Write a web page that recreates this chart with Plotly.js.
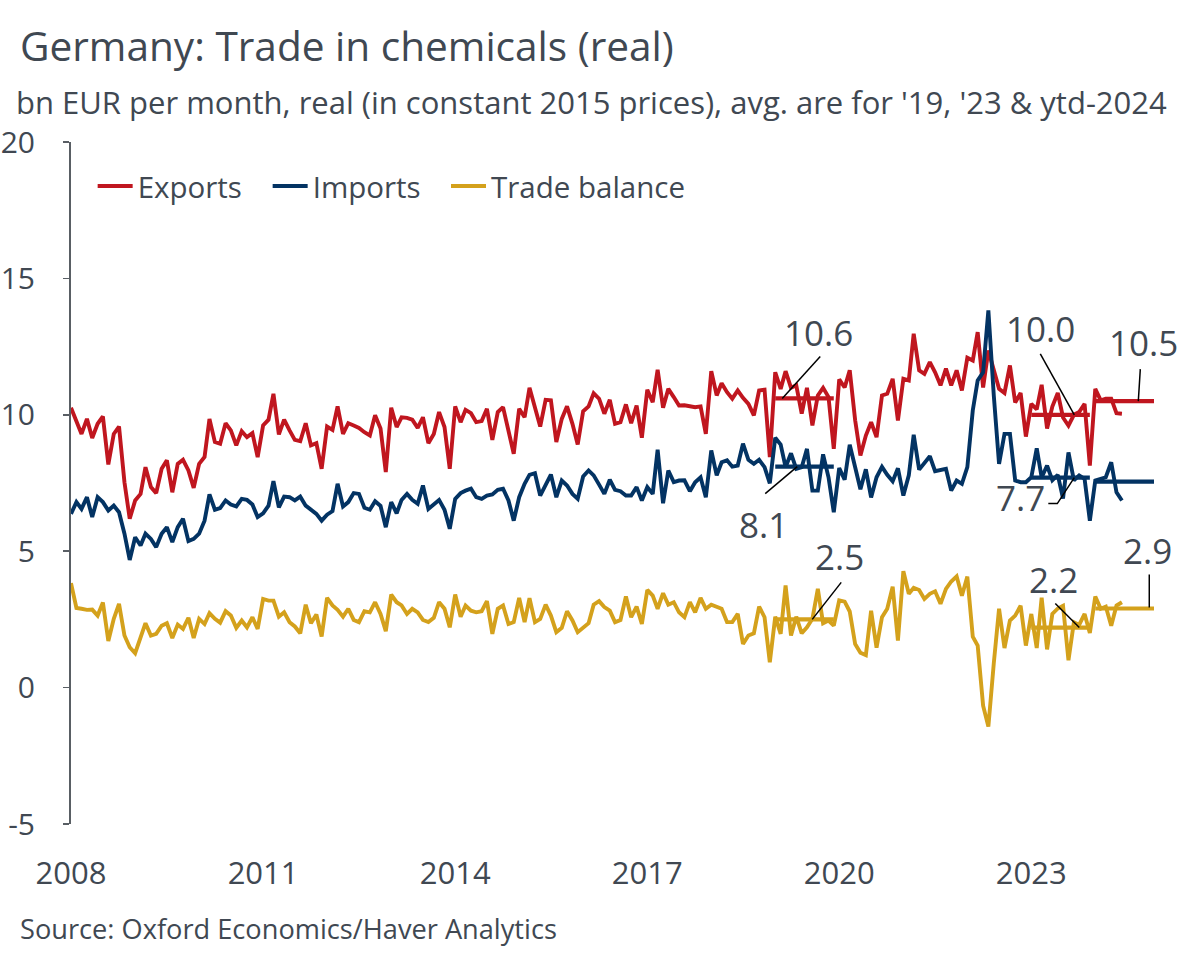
<!DOCTYPE html>
<html>
<head>
<meta charset="utf-8">
<script src="https://cdn.plot.ly/plotly-3.0.1.min.js"></script>
<style>
  html, body { margin: 0; padding: 0; background: #ffffff; }
  #chart { width: 1200px; height: 959px; }
</style>
</head>
<body>
<div id="chart"></div>
<script>
// Monthly series, bn EUR per month in constant 2015 prices, Jan 2008 - Jun 2024
const startYear = 2008;

const exportsVals = [
  10.26, 9.8, 9.3, 9.85, 9.15, 9.67, 9.94, 8.18, 9.3, 9.57, 7.53, 6.19,
  6.86, 7.1, 8.08, 7.35, 7.13, 8.02, 8.33, 7.16, 8.2, 8.35, 7.96, 7.32,
  8.2, 8.45, 9.85, 9.0, 8.94, 9.69, 9.43, 8.88, 9.4, 9.18, 9.33, 8.45,
  9.61, 9.82, 10.77, 9.28, 9.82, 9.43, 9.08, 9.03, 9.69, 8.88, 8.96, 8.02,
  9.57, 9.45, 10.31, 9.3, 9.69, 9.61, 9.52, 9.36, 9.24, 9.98, 9.5, 7.9,
  10.26, 9.55, 9.91, 9.89, 9.82, 9.52, 9.91, 8.96, 9.3, 10.1, 9.55, 8.02,
  10.31, 9.73, 10.18, 10.06, 9.73, 9.77, 10.22, 9.08, 10.1, 10.28, 9.43, 8.57,
  10.22, 9.91, 10.99, 10.2, 9.57, 10.55, 10.53, 9.0, 9.85, 10.31, 9.67, 8.91,
  10.13, 10.31, 10.79, 10.59, 10.04, 10.55, 9.67, 9.73, 10.38, 9.69, 10.34, 9.16,
  10.92, 10.46, 11.65, 10.26, 10.95, 10.65, 10.34, 10.35, 10.31, 10.28, 10.31, 9.3,
  11.6, 10.71, 11.16, 10.83, 10.59, 10.89, 10.62, 10.4, 9.98, 10.89, 10.92, 8.45,
  11.56, 10.95, 11.6, 10.99, 11.08, 10.04, 10.99, 9.61, 10.71, 10.99, 10.65, 8.75,
  11.3, 11.0, 11.63, 9.8, 8.51, 9.24, 9.73, 9.18, 10.71, 10.77, 11.32, 9.79,
  11.32, 11.26, 12.97, 11.63, 11.5, 11.93, 11.56, 11.08, 11.69, 11.08, 11.63, 10.89,
  12.09, 11.99, 13.03, 11.0, 12.36, 11.6, 10.95, 10.8, 11.81, 10.45, 10.8, 9.2,
  10.4, 10.2, 11.1, 9.5, 10.3, 10.8, 9.9, 9.6, 10.0, 10.1, 10.4, 8.14,
  10.95, 10.53, 10.59, 10.59, 10.06, 10.04
];

const importsVals = [
  6.37, 6.8, 6.55, 6.98, 6.25, 6.98, 6.8, 6.49, 6.67, 6.43, 5.64, 4.68,
  5.51, 5.21, 5.64, 5.45, 5.15, 5.64, 5.88, 5.33, 5.88, 6.19, 5.37, 5.45,
  5.64, 6.12, 7.08, 6.52, 6.58, 6.86, 6.71, 6.64, 6.92, 6.88, 6.71, 6.25,
  6.39, 6.67, 7.57, 6.61, 7.0, 6.98, 6.86, 7.0, 6.67, 6.52, 6.37, 6.12,
  6.34, 6.47, 7.47, 6.64, 6.8, 7.13, 7.1, 6.59, 6.52, 6.83, 6.66, 5.88,
  6.8, 6.39, 6.88, 7.1, 6.88, 6.74, 7.41, 6.55, 6.71, 6.88, 6.52, 5.82,
  6.92, 7.13, 7.22, 7.29, 6.98, 6.92, 7.04, 7.08, 7.25, 7.29, 6.86, 6.12,
  6.98, 7.47, 7.8, 7.86, 7.04, 7.44, 7.81, 6.98, 7.59, 7.41, 7.1, 6.92,
  7.74, 7.96, 7.78, 7.44, 7.1, 7.62, 7.25, 7.2, 7.04, 7.04, 7.35, 6.86,
  7.35, 7.1, 8.72, 6.76, 7.96, 7.53, 7.59, 7.6, 7.2, 7.53, 7.71, 6.98,
  8.69, 7.78, 8.26, 8.33, 8.1, 8.14, 8.94, 8.35, 8.2, 8.35, 8.08, 7.49,
  9.16, 8.91, 8.08, 8.59, 8.02, 8.08, 8.75, 7.22, 7.22, 8.55, 7.71, 6.43,
  8.05, 7.62, 8.9, 8.08, 7.27, 8.0, 6.97, 7.71, 8.09, 7.8, 7.56, 8.04,
  7.04, 7.78, 9.27, 7.99, 8.23, 8.48, 7.93, 7.96, 8.02, 7.22, 7.59, 7.47,
  8.08, 10.16, 11.26, 11.56, 13.83, 10.7, 8.2, 9.3, 9.3, 7.59, 7.53, 7.53,
  7.71, 8.77, 7.7, 8.14, 7.6, 7.8, 6.93, 8.62, 7.6, 7.78, 7.65, 6.12,
  7.59, 7.65, 7.71, 8.26, 7.16, 6.86
];

const balanceVals = [
  3.83, 2.92, 2.89, 2.85, 2.86, 2.64, 3.12, 1.71, 2.52, 3.07, 1.91, 1.48,
  1.26, 1.86, 2.36, 1.91, 1.97, 2.27, 2.36, 1.82, 2.31, 2.15, 2.56, 1.82,
  2.52, 2.33, 2.73, 2.52, 2.38, 2.8, 2.64, 2.19, 2.46, 2.21, 2.58, 2.15,
  3.25, 3.19, 3.19, 2.6, 2.76, 2.4, 2.24, 1.99, 3.04, 2.36, 2.68, 1.87,
  3.29, 3.01, 2.85, 2.6, 2.89, 2.48, 2.4, 2.8, 2.76, 3.13, 2.7, 2.07,
  3.41, 3.13, 3.01, 2.7, 2.89, 2.76, 2.48, 2.4, 2.56, 3.13, 2.89, 2.21,
  3.41, 2.6, 3.01, 2.82, 2.76, 2.8, 3.17, 1.97, 2.89, 3.01, 2.33, 2.4,
  3.29, 2.4, 3.28, 2.4, 2.52, 3.04, 2.64, 2.03, 2.19, 2.8, 2.46, 2.03,
  2.21, 2.36, 3.04, 3.17, 2.95, 2.82, 2.4, 2.48, 3.34, 2.58, 2.97, 2.33,
  3.58, 3.37, 2.89, 3.46, 3.04, 3.13, 2.76, 2.58, 3.13, 2.76, 3.29, 2.89,
  3.04, 2.97, 2.89, 2.4, 2.4, 2.7, 1.6, 1.91, 1.99, 2.97, 2.58, 0.93,
  2.6, 1.97, 3.74, 1.91, 2.6, 1.99, 2.21, 2.52, 3.62, 2.36, 2.46, 2.27,
  3.2, 3.15, 2.79, 1.6, 1.28, 1.19, 2.82, 1.46, 2.58, 2.89, 3.7, 1.72,
  4.27, 3.44, 3.66, 3.58, 3.25, 3.44, 3.53, 3.07, 3.62, 3.89, 4.08, 3.37,
  4.07, 1.87, 1.54, -0.66, -1.43, 0.9, 2.89, 1.45, 2.46, 2.64, 3.0, 1.54,
  2.7, 1.45, 3.3, 1.4, 2.7, 2.9, 3.0, 1.0, 2.4, 2.3, 2.7, 2.0,
  3.34, 2.89, 2.97, 2.27, 3.01, 3.13
];

// Annual averages: 2019, 2023 and year-to-date 2024
const avgYears = [2019, 2023, 2024];
const exportsAvg = [10.6, 10.0, 10.5];
const importsAvg = [8.1, 7.7, 7.55];
const balanceAvg = [2.5, 2.2, 2.9];

const xTickYears = [2008, 2011, 2014, 2017, 2020, 2023];
const yTickVals = [-5, 0, 5, 10, 15, 20];

const COLORS = { exp: '#C0161F', imp: '#033363', bal: '#D4A11C' };
const TEXT = '#404852';
const AXIS = '#595e64';
const FONT = '"Open Sans", "Noto Sans", sans-serif';

function monthDate(i) {
  const y = startYear + Math.floor(i / 12);
  const m = (i % 12) + 1;
  return y + '-' + String(m).padStart(2, '0') + '-01';
}
const months = exportsVals.map((_, i) => monthDate(i));

function avgSegments(values) {
  const xs = [], ys = [];
  avgYears.forEach((yr, k) => {
    xs.push(yr + '-01-01', yr + '-12-01', null);
    ys.push(values[k], values[k], null);
  });
  return { x: xs, y: ys };
}

const lineW = 3.9;
const traces = [
  { x: months, y: exportsVals, name: 'Exports', type: 'scatter', mode: 'lines',
    legend: 'legend', line: { color: COLORS.exp, width: lineW } },
  { x: months, y: importsVals, name: 'Imports', type: 'scatter', mode: 'lines',
    legend: 'legend', line: { color: COLORS.imp, width: lineW } },
  { x: months, y: balanceVals, name: 'Trade balance', type: 'scatter', mode: 'lines',
    legend: 'legend2', line: { color: COLORS.bal, width: lineW } }
];
[[exportsAvg, COLORS.exp], [importsAvg, COLORS.imp], [balanceAvg, COLORS.bal]].forEach(([vals, col]) => {
  const s = avgSegments(vals);
  traces.push({ x: s.x, y: s.y, type: 'scatter', mode: 'lines', showlegend: false,
    hoverinfo: 'skip', line: { color: col, width: 4.2 } });
});

// Value callouts: anchored on the average lines, offsets in pixels (y up)
const callouts = [
  { yr: 2019, v: exportsAvg[0], tx: 43, ty: 66, path: 'M7,0 L45,42' },
  { yr: 2019, v: importsAvg[0], tx: -12, ty: -58, path: 'M22,0 L-10,-27' },
  { yr: 2019, v: balanceAvg[0], tx: 64, ty: 63, path: 'M37,0 L66,37' },
  { yr: 2023, v: exportsAvg[1], tx: 9, ty: 86, path: 'M43,0 L9,61' },
  { yr: 2023, v: importsAvg[1], tx: -11, ty: -20, path: 'M43,0 L26,-26 L17,-26' },
  { yr: 2023, v: balanceAvg[1], tx: 22, ty: 48, path: 'M48,0 L24,24' },
  { yr: 2024, v: exportsAvg[2], tx: 48, ty: 59, path: 'M43,0 L45,32' },
  { yr: 2024, v: balanceAvg[2], tx: 52, ty: 58, path: 'M54,1 L54,34' }
];

const annotations = callouts.map(c => ({
  x: c.yr + '-01-01', y: c.v, xref: 'x', yref: 'y',
  text: c.v.toFixed(1), showarrow: false,
  xshift: c.tx, yshift: c.ty, xanchor: 'center', yanchor: 'middle',
  font: { family: FONT, size: 35, color: TEXT }
}));

annotations.push({
  xref: 'paper', yref: 'paper', x: -0.0526, y: 1.0585, xanchor: 'left', yanchor: 'middle',
  text: "bn EUR per month, real (in constant 2015 prices), avg. are for '19, '23 &amp; ytd-2024",
  showarrow: false, font: { family: FONT, size: 31, color: TEXT }
});
annotations.push({
  xref: 'paper', yref: 'paper', x: -0.0489, y: -0.1525, xanchor: 'left', yanchor: 'middle',
  text: 'Source: Oxford Economics/Haver Analytics',
  showarrow: false, font: { family: FONT, size: 27.2, color: TEXT }
});

const shapes = callouts.map(c => ({
  type: 'path', xref: 'x', yref: 'y',
  xsizemode: 'pixel', ysizemode: 'pixel',
  xanchor: c.yr + '-01-01', yanchor: c.v,
  path: c.path, line: { color: '#000000', width: 1.5 }
}));

const tickVals = xTickYears.map(y => y + '-01-01');
const xRange = ['2008-01-01', '2024-12-01'];

const legendBase = {
  orientation: 'h', y: 0.935, xanchor: 'left', yanchor: 'middle',
  font: { family: FONT, size: 29.5, color: TEXT },
  bgcolor: 'rgba(0,0,0,0)', itemwidth: 35,
  itemclick: false, itemdoubleclick: false
};

const layout = {
  width: 1200, height: 959,
  paper_bgcolor: '#ffffff', plot_bgcolor: '#ffffff',
  margin: { l: 71, r: 46, t: 142, b: 135 },
  font: { family: FONT, color: TEXT },
  title: {
    text: 'Germany: Trade in chemicals (real)',
    font: { family: FONT, size: 40.6, color: TEXT },
    x: 20 / 1200, xref: 'container', xanchor: 'left',
    y: 1 - 47 / 959, yref: 'container', yanchor: 'middle'
  },
  showlegend: true,
  legend: Object.assign({}, legendBase, { x: 0.02, entrywidth: 125, entrywidthmode: 'pixels' }),
  legend2: Object.assign({}, legendBase, { x: (446 - 71) / 1083 }),
  xaxis: {
    type: 'date', range: xRange, tickvals: tickVals, tickformat: '%Y',
    showline: false, showgrid: false, zeroline: false,
    ticks: 'outside', ticklen: 22, tickcolor: 'rgba(0,0,0,0)',
    tickfont: { family: FONT, size: 31, color: TEXT }
  },
  xaxis2: {
    type: 'date', range: xRange, tickvals: tickVals, overlaying: 'x',
    anchor: 'free', position: 0.2,
    showline: true, linecolor: AXIS, linewidth: 2,
    ticks: 'outside', ticklen: 12, tickwidth: 1.5, tickcolor: AXIS,
    showticklabels: false, showgrid: false, zeroline: false
  },
  yaxis: {
    range: [-5, 20], tickvals: yTickVals, ticktext: yTickVals.map(String),
    showline: true, linecolor: AXIS, linewidth: 2,
    ticks: 'outside', ticklen: 6, tickwidth: 1.5, tickcolor: AXIS,
    ticklabelstandoff: 22,
    showgrid: false, zeroline: false,
    tickfont: { family: FONT, size: 30, color: TEXT }
  },
  annotations: annotations,
  shapes: shapes
};

Plotly.newPlot('chart', traces, layout, { displayModeBar: false, staticPlot: true });
</script>
</body>
</html>
